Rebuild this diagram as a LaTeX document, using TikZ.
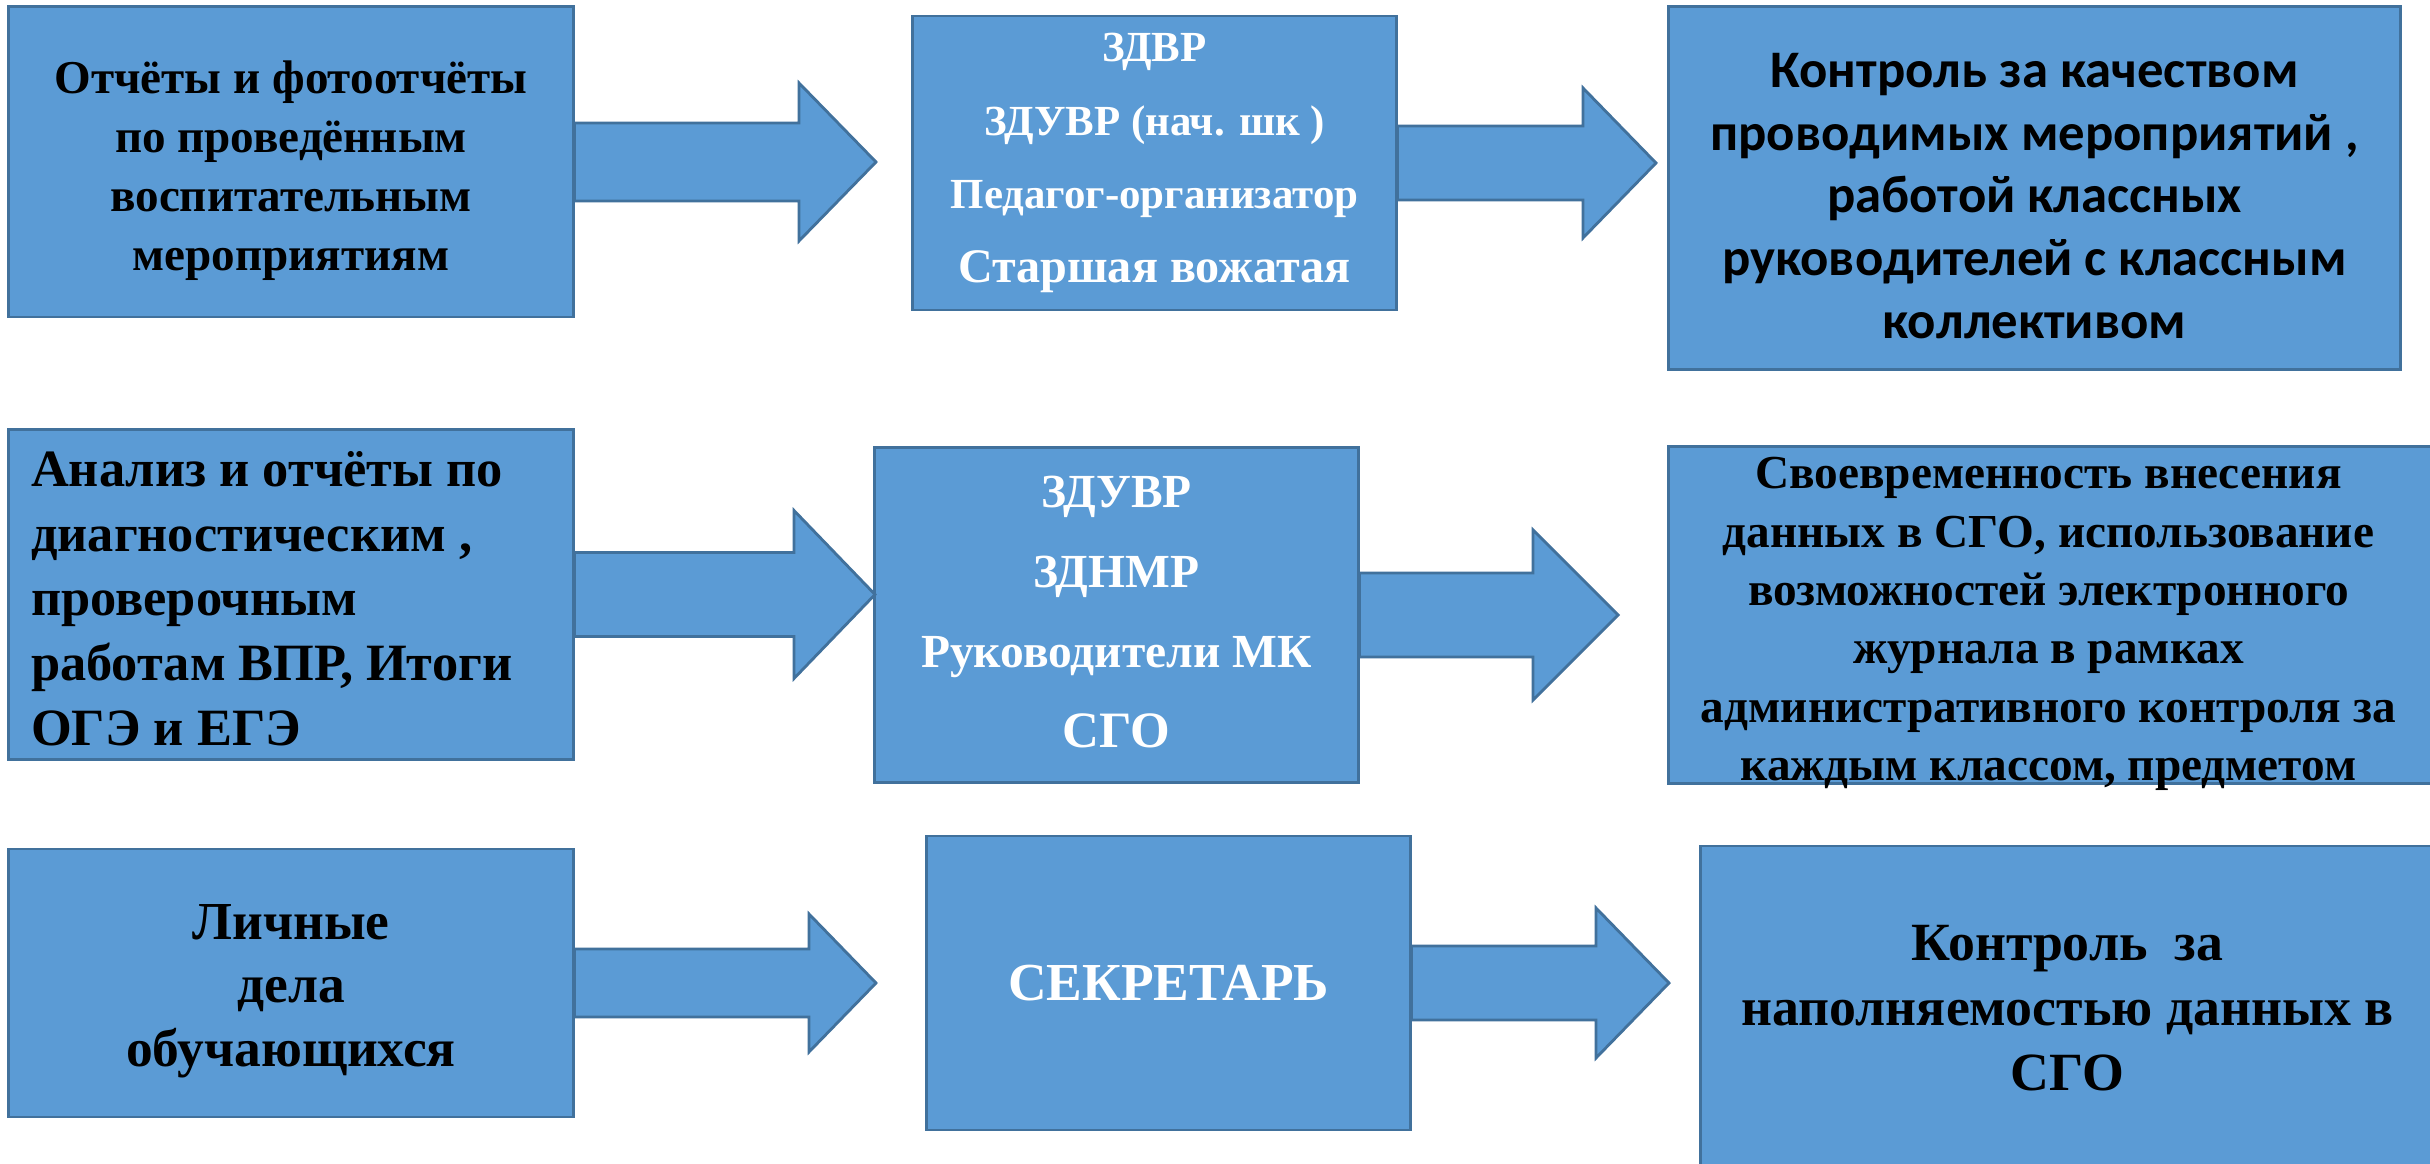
\documentclass[tikz,border=0pt]{standalone}
\usepackage{fontspec}
\setmainfont{Liberation Serif}
\newfontfamily\calfont{Carlito}
\usetikzlibrary{calc}
\definecolor{boxc}{HTML}{5B9BD5}
\definecolor{bordc}{HTML}{41719C}
\tikzset{
  box/.style={draw=bordc, fill=boxc, line width=0.8pt, inner sep=0pt},
  txt/.style={inner sep=0pt, align=center},
  blk/.style={draw=bordc, fill=boxc, line width=0.8pt, line join=miter},
}
\newcommand\blkarr[5]{%
  \draw[blk] let \p1=(#1.east), \p2=(#2) in
    (\x1,{\y1+#4*0.01cm}) -- ({\x2-#3*0.01cm},{\y1+#4*0.01cm}) --
    ({\x2-#3*0.01cm},{\y1+#5*0.01cm}) -- (\x2,\y1) --
    ({\x2-#3*0.01cm},{\y1-#5*0.01cm}) -- ({\x2-#3*0.01cm},{\y1-#4*0.01cm}) --
    (\x1,{\y1-#4*0.01cm}) -- cycle;}
\begin{document}
\begin{tikzpicture}[x=0.01cm,y=-0.01cm]
\useasboundingbox[fill=white] (0,0) rectangle (2430,1164);
% boxes
\node[box, minimum width=5.64cm, minimum height=3.10cm] (b1) at (291,162) {};
\node[box, minimum width=4.83cm, minimum height=2.94cm] (b2) at (1154.5,163) {};
\node[box, minimum width=7.31cm, minimum height=3.62cm] (b3) at (2034.5,188) {};
\node[box, minimum width=5.64cm, minimum height=3.29cm] (b4) at (291,594.5) {};
\node[box, minimum width=4.83cm, minimum height=3.34cm] (b5) at (1116.5,615) {};
\node[box, minimum width=7.71cm, minimum height=3.36cm] (b6) at (2054.5,615) {};
\node[box, minimum width=5.64cm, minimum height=2.68cm] (b7) at (291,983) {};
\node[box, minimum width=4.83cm, minimum height=2.94cm] (b8) at (1168.5,983) {};
\node[box, minimum width=7.39cm, minimum height=3.24cm] (b9) at (2070.5,1008) {};
% texts
\node[txt, font=\bfseries\fontsize{13.4}{16.8}\selectfont] (b1t) at ($(b1)+(0,9)$)
  {Отчёты и фотоотчёты\\ по проведённым\\ воспитательным\\ мероприятиям};
\node[txt, text=white, font=\bfseries\fontsize{12.2}{21}\selectfont] (b2t) at ($(b2)+(0,0)$)
  {ЗДВР\\ ЗДУВР (нач. шк )\\ Педагог-организатор\\ {\fontsize{13.7}{21}\selectfont Старшая вожатая}};
\node[txt, font=\calfont\bfseries\fontsize{15}{17.8}\selectfont] (b3t) at ($(b3)+(0,8)$)
  {Контроль за качеством\\ проводимых мероприятий ,\\ работой классных\\ руководителей с классным\\ коллективом};
\node[txt, align=left, font=\bfseries\fontsize{14.9}{18.4}\selectfont] (b4t) at ($(b4.west)+(23,4)$) [anchor=west]
  {Анализ и отчёты по\\ диагностическим ,\\ проверочным\\ работам ВПР, Итоги\\ ОГЭ и ЕГЭ};
\node[txt, text=white, font=\bfseries\fontsize{13.5}{22.8}\selectfont] (b5t) at ($(b5)+(0,-3)$)
  {ЗДУВР\\ ЗДНМР\\ Руководители МК\\ {\fontsize{14.5}{22.8}\selectfont СГО}};
\node[txt, font=\bfseries\fontsize{13.45}{16.6}\selectfont] (b6t) at ($(b6)+(-6,9)$)
  {Своевременность внесения\\ данных в СГО, использование\\ возможностей электронного\\ журнала в рамках\\ административного контроля за\\ каждым классом, предметом};
\node[txt, font=\bfseries\fontsize{15.2}{18}\selectfont] (b7t) at ($(b7)+(0,8)$)
  {Личные\\ дела\\ обучающихся};
\node[txt, text=white, font=\bfseries\fontsize{15.2}{18.5}\selectfont] (b8t) at (b8)
  {СЕКРЕТАРЬ};
\node[txt, font=\bfseries\fontsize{15.3}{18.5}\selectfont] (b9t) at ($(b9)+(-3,0)$)
  {Контроль\ \ за\\ наполняемостью данных в\\ СГО};
% arrow tips
\coordinate (t1) at (876,162);
\coordinate (t2) at (1656,163);
\coordinate (t4) at (875,595);
\coordinate (t5) at (1618,615);
\coordinate (t7) at (876,983);
\coordinate (t8) at (1669,983);
\blkarr{b1}{t1}{77}{39}{79}
\blkarr{b2}{t2}{73}{37}{75}
\blkarr{b4}{t4}{81}{42}{84}
\blkarr{b5}{t5}{85}{42}{85}
\blkarr{b7}{t7}{67}{34}{69}
\blkarr{b8}{t8}{73}{37}{75}
\end{tikzpicture}
\end{document}
